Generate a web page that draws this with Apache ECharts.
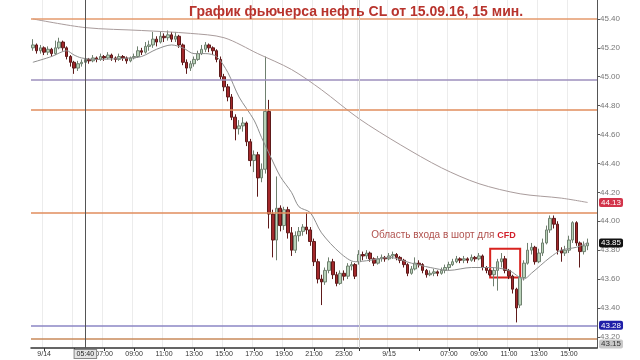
<!DOCTYPE html>
<html><head><meta charset="utf-8">
<script src="https://cdn.jsdelivr.net/npm/echarts@6/dist/echarts.min.js"></script>
<style>html,body{margin:0;padding:0;background:#fff}#c{width:640px;height:360px}</style>
</head><body><div id="c"></div>
<script>
const titleText = 'График фьючерса нефть CL от 15.09.16, 15 мин.';
const noteText = 'Область входа в шорт для ';
const noteTag = 'CFD';
const cursorText = '05:40';

const opens = [45.20,45.22,45.18,45.20,45.17,45.19,45.16,45.20,45.24,45.20,
45.14,45.10,45.06,45.09,45.10,45.12,45.11,45.13,45.12,45.14,
45.13,45.15,45.13,45.12,45.14,45.13,45.11,45.13,45.14,45.18,
45.17,45.21,45.22,45.26,45.24,45.28,45.27,45.29,45.26,45.28,
45.22,45.10,45.06,45.09,45.12,45.16,45.19,45.22,45.20,45.18,
45.12,45.00,44.93,44.86,44.72,44.64,44.66,44.68,44.55,44.42,
44.46,44.30,44.36,44.76,44.05,43.87,44.09,43.97,44.08,43.92,
43.80,43.90,43.93,43.96,43.94,43.86,43.72,43.60,43.58,43.66,
43.72,43.63,43.57,43.64,43.62,43.69,43.70,
43.72,43.77,43.76,43.78,43.74,43.71,43.74,43.75,43.74,43.76,
43.77,43.75,43.73,43.70,43.64,43.67,43.71,43.70,43.66,43.63,
43.64,43.65,43.64,43.66,43.68,43.70,43.72,43.74,43.73,43.74,
43.73,43.75,43.74,43.76,43.68,43.66,43.63,43.66,43.72,43.74,
43.66,43.62,43.53,43.42,43.61,43.71,43.80,43.82,43.72,43.78,
43.85,43.94,44.02,43.98,43.80,43.78,43.80,43.87,43.99,43.85,
43.79,43.83];
const closes = [45.22,45.18,45.20,45.17,45.19,45.16,45.20,45.24,45.20,45.14,
45.10,45.06,45.09,45.10,45.12,45.11,45.13,45.12,45.14,45.13,
45.15,45.13,45.12,45.14,45.13,45.11,45.13,45.14,45.18,45.17,
45.21,45.22,45.26,45.24,45.28,45.27,45.29,45.26,45.28,45.22,
45.10,45.06,45.09,45.12,45.16,45.19,45.22,45.20,45.18,45.12,
45.00,44.93,44.86,44.72,44.64,44.66,44.68,44.55,44.42,44.46,
44.30,44.36,44.76,44.05,43.87,44.09,43.97,44.08,43.92,43.80,
43.90,43.93,43.96,43.94,43.86,43.72,43.60,43.58,43.66,43.72,
43.63,43.57,43.64,43.62,43.69,43.70,43.62,
43.77,43.76,43.78,43.74,43.71,43.74,43.75,43.74,43.76,43.77,
43.75,43.73,43.70,43.64,43.67,43.71,43.70,43.66,43.63,43.64,
43.65,43.64,43.66,43.68,43.70,43.72,43.74,43.73,43.74,43.73,
43.75,43.74,43.76,43.68,43.66,43.63,43.66,43.72,43.74,43.66,
43.62,43.53,43.40,43.61,43.71,43.80,43.82,43.72,43.78,43.85,
43.94,44.02,43.98,43.80,43.78,43.80,43.87,43.99,43.85,43.79,
43.83,43.85];
const lows = [45.18,45.16,45.16,45.15,45.15,45.14,45.15,45.19,45.18,45.12,
45.07,45.02,45.04,45.07,45.09,45.09,45.10,45.10,45.11,45.11,
45.12,45.11,45.10,45.11,45.11,45.09,45.10,45.12,45.13,45.15,
45.16,45.18,45.20,45.21,45.23,45.24,45.25,45.24,45.24,45.20,
45.08,45.02,45.04,45.07,45.11,45.15,45.17,45.17,45.15,45.10,
44.98,44.90,44.83,44.70,44.56,44.60,44.62,44.52,44.38,44.34,
44.17,44.27,44.33,43.95,43.75,43.73,43.93,43.94,43.88,43.76,
43.78,43.86,43.90,43.91,43.83,43.69,43.57,43.42,43.56,43.64,
43.60,43.55,43.56,43.59,43.60,43.66,43.60,
43.70,43.73,43.74,43.72,43.69,43.70,43.72,43.72,43.73,43.74,
43.73,43.71,43.68,43.62,43.63,43.66,43.68,43.64,43.61,43.62,
43.62,43.62,43.63,43.64,43.66,43.69,43.71,43.71,43.71,43.71,
43.72,43.72,43.73,43.66,43.64,43.62,43.55,43.52,43.68,43.64,
43.60,43.50,43.30,43.40,43.59,43.70,43.77,43.70,43.71,43.76,
43.84,43.92,43.95,43.77,43.72,43.76,43.78,43.85,43.83,43.68,
43.77,43.80];
const highs = [45.26,45.23,45.22,45.21,45.21,45.20,45.25,45.27,45.25,45.21,
45.15,45.11,45.11,45.12,45.14,45.13,45.15,45.14,45.16,45.15,
45.17,45.16,45.14,45.16,45.15,45.14,45.14,45.16,45.21,45.20,
45.24,45.25,45.31,45.28,45.31,45.30,45.32,45.31,45.31,45.29,
45.23,45.12,45.11,45.14,45.18,45.22,45.24,45.23,45.21,45.19,
45.14,45.02,44.95,44.88,44.74,44.70,44.72,44.69,44.57,44.49,
44.48,44.40,45.14,44.84,44.08,44.31,44.11,44.10,44.10,43.96,
43.93,43.96,43.98,44.06,43.96,43.88,43.74,43.63,43.68,43.75,
43.74,43.65,43.66,43.66,43.71,43.72,43.71,
43.80,43.79,43.80,43.79,43.75,43.76,43.77,43.76,43.78,43.79,
43.78,43.76,43.74,43.71,43.69,43.75,43.73,43.71,43.67,43.66,
43.67,43.66,43.68,43.70,43.72,43.74,43.76,43.75,43.76,43.75,
43.77,43.76,43.78,43.77,43.69,43.67,43.68,43.74,43.78,43.76,
43.67,43.63,43.54,43.63,43.73,43.85,43.85,43.83,43.81,43.88,
43.97,44.04,44.04,44.00,43.82,43.83,43.90,44.00,44.00,43.86,
43.86,43.88];

// moving averages: candle index / value
const shortMaIdx = [0,5,9,11,13,17,26,29,33,37,40,43,46,49,52,55,59,61,63,66,69,71,74,77,82,86,90,95,101,106,111,117,122,127,131,133,138,141,145,148];
const shortMaVal = [45.10,45.14,45.18,45.15,45.13,45.12,45.13,45.14,45.19,45.22,45.20,45.16,45.16,45.14,45.03,44.86,44.70,44.58,44.47,44.31,44.20,44.10,44.06,43.92,43.78,43.72,43.73,43.75,43.71,43.68,43.66,43.68,43.68,43.66,43.60,43.64,43.75,43.80,43.82,43.85];
const longMaIdx = [0,14,29,42,51,60,69,77,87,98,109,119,130,141,148];
const longMaVal = [45.40,45.34,45.32,45.30,45.27,45.16,45.05,44.91,44.71,44.53,44.37,44.26,44.19,44.16,44.13];

// horizontal levels
const levelValues = [45.40, 44.98, 44.77, 44.06, 43.28, 43.19];
const levelColors = ['#e59a6c', '#9d8fbd', '#e08c5c', '#e08c5c', '#8b86c4', '#c98a5a'];
// right-side price tags
const tagValues = [44.13, 43.85, 43.28, 43.15];
const tagColors = ['#d2344a', '#111111', '#1f1fa8', '#c9c9c9'];
const tagTextColors = ['#fff', '#fff', '#fff', '#333'];

const yTickValues = [45.40,45.20,45.00,44.80,44.60,44.40,44.20,44.00,43.80,43.60,43.40,43.20];
const xTickCats = ['14 03:00','14 05:00','14 07:00','14 09:00','14 11:00','14 13:00','14 15:00','14 17:00','14 19:00','14 21:00','14 23:00','15 01:00','15 03:00','15 05:00','15 07:00','15 09:00','15 11:00','15 13:00','15 15:00'];
const xTickText = ['9/14','','07:00','09:00','11:00','13:00','15:00','17:00','19:00','21:00','23:00','','9/15','','07:00','09:00','11:00','13:00','15:00'];

function pad(n){return (n<10?'0':'')+n;}
const categories = [];
for (let m = 2*60+15; m <= 23*60+45; m += 15) categories.push('14 ' + pad(Math.floor(m/60)) + ':' + pad(m%60));
for (let m = 60; m <= 16*60+45; m += 15) categories.push('15 ' + pad(Math.floor(m/60)) + ':' + pad(m%60));

const tickMap = {};
xTickCats.forEach((c,i)=>{tickMap[c]=xTickText[i];});
const isTick = (idx, val) => Object.prototype.hasOwnProperty.call(tickMap, val);

const candles = opens.map((o,i)=>[o, closes[i], lows[i], highs[i]]);

const markLines = levelValues.map((v,i)=>({
  yAxis: v, lineStyle: {color: levelColors[i], width: 1.6, type: 'solid'}, label: {show: false}
}));
tagValues.forEach((v,i)=>{
  markLines.push({
    yAxis: v, lineStyle: {color: 'rgba(255,255,255,0)', width: 1},
    label: {show: true, position: 'end', distance: 2, formatter: v.toFixed(2), backgroundColor: tagColors[i],
      color: tagTextColors[i], fontSize: 8, padding: [1,2,0,2], borderRadius: 2, fontFamily: 'Liberation Sans'}
  });
});
markLines.push({xAxis: '15 01:00', lineStyle: {color: '#cfcfcf', width: 1, type: 'solid'}, label: {show: false}});
markLines.push({xAxis: '14 05:45', lineStyle: {color: '#555', width: 1, type: 'solid'},
  label: {show: true, position: 'start', distance: 2, formatter: cursorText, backgroundColor: '#e4e4e4',
    borderColor: '#888', borderWidth: 1, color: '#222', fontSize: 7, padding: [1,2,0,2], fontFamily: 'Liberation Sans'}});

const chart = echarts.init(document.getElementById('c'), null, {renderer: 'canvas'});
chart.setOption({
  animation: false,
  backgroundColor: '#fff',
  title: {
    text: titleText, left: 184, top: 0,
    textStyle: {color: '#b8332c', fontSize: 14, fontWeight: 'bold', fontFamily: 'Liberation Sans'}
  },
  grid: {left: 31, right: 43, top: 0, bottom: 12},
  xAxis: {
    type: 'category', data: categories, boundaryGap: true,
    axisLine: {show: true, lineStyle: {color: '#333', width: 1.5}},
    axisTick: {show: true, alignWithLabel: true, interval: isTick, length: 3, lineStyle: {color: '#333'}},
    axisLabel: {interval: isTick, formatter: v => tickMap[v] || '', fontSize: 7, color: '#333', margin: 3, fontFamily: 'Liberation Sans'},
    splitLine: {show: true, interval: isTick, lineStyle: {color: '#ececec', width: 1}}
  },
  yAxis: {
    type: 'value', position: 'right', min: 43.123, max: 45.531, scale: true,
    axisLine: {show: true, lineStyle: {color: '#555'}},
    axisTick: {show: true, length: 3, customValues: yTickValues, lineStyle: {color: '#555'}},
    axisLabel: {customValues: yTickValues, formatter: v => v.toFixed(2), fontSize: 8, color: '#777', margin: 3, fontFamily: 'Liberation Sans'},
    splitLine: {show: false}
  },
  series: [
    {
      type: 'candlestick', data: candles, barWidth: '82%',
      itemStyle: {color: '#b9d2b9', color0: '#a3282b', borderColor: '#6f806f', borderColor0: '#5e1a1a', borderWidth: 1},
      markLine: {silent: true, symbol: ['none','none'], data: markLines},
      markArea: {silent: true, itemStyle: {color: 'rgba(0,0,0,0)', borderColor: '#d8231f', borderWidth: 2},
        data: [[{xAxis: '15 09:45', yAxis: 43.81}, {xAxis: '15 11:45', yAxis: 43.61}]]},
      markPoint: {silent: true, symbol: 'circle', symbolSize: 0,
        data: [{coord: ['15 01:45', 43.90], label: {show: true, position: 'right', distance: 1,
          formatter: '{a|' + noteText + '}{b|' + noteTag + '}',
          rich: {a: {color: '#b0514d', fontSize: 10, fontFamily: 'Liberation Sans'},
                 b: {color: '#d21f2a', fontSize: 9, fontWeight: 'bold', fontFamily: 'Liberation Sans'}}}}]}
    },
    {
      type: 'line', data: shortMaIdx.map((x,i)=>[x, shortMaVal[i]]), smooth: 0.3, symbol: 'none',
      lineStyle: {color: '#8e8e8e', width: 1}, z: 3
    },
    {
      type: 'line', data: longMaIdx.map((x,i)=>[x, longMaVal[i]]), smooth: 0.3, symbol: 'none',
      lineStyle: {color: '#a99c9c', width: 1}, z: 3
    }
  ]
});
</script>
</body></html>
